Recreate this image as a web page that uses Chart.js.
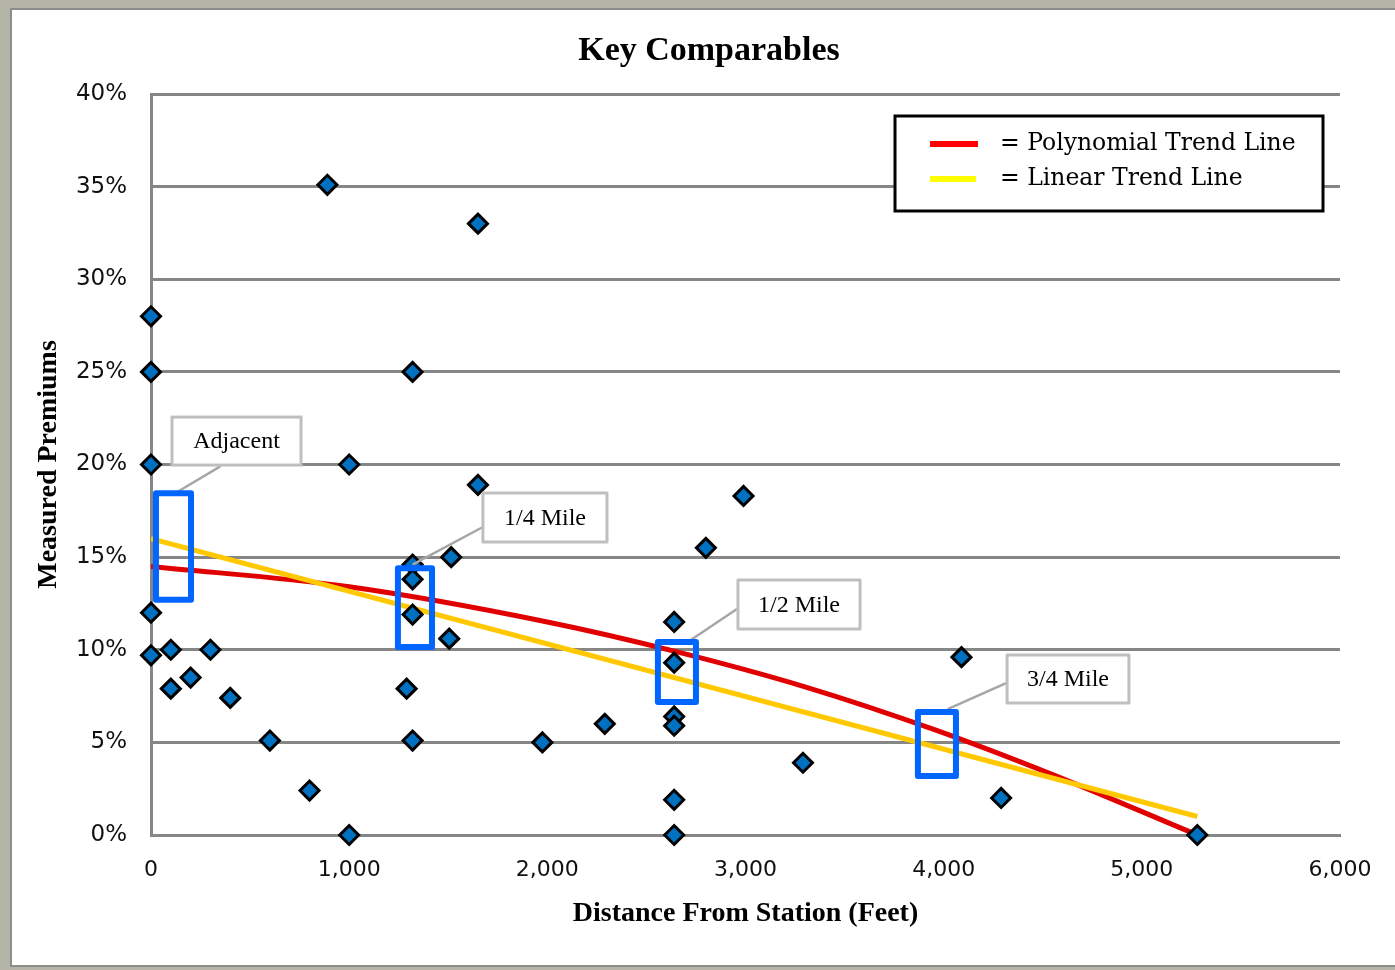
<!DOCTYPE html>
<html>
<head>
<meta charset="utf-8">
<script src="https://cdn.jsdelivr.net/npm/chart.js@4.4.1/dist/chart.umd.min.js"></script>
<style>
    html, body { margin: 0; padding: 0; background: #b4b5a8; }
    #wrap { width: 1395px; height: 970px; }
</style>
</head>
<body>
<div id="wrap"><canvas id="premiumChart"></canvas></div>
<script>
// distance from station (feet) and measured premium (%) of each comparable
const distances = [0, 0, 0, 0, 0, 100, 100, 200, 300, 400, 600, 800, 1000, 890, 1000,
    1650, 1320, 1320, 1320, 1320, 1290, 1320, 1515, 1505, 1650, 1975, 2290,
    2640, 2640, 2640, 2640, 2640, 2640, 2800, 2990, 3290, 4090, 4290, 5280];
const premiums = [28, 25, 20, 12, 9.7, 10, 7.9, 8.5, 10, 7.4, 5.1, 2.4, 0, 35.1, 20,
    33, 25, 14.6, 13.8, 11.9, 7.9, 5.1, 15, 10.6, 18.9, 5, 6,
    11.5, 9.3, 6.4, 5.9, 1.9, 0, 15.5, 18.3, 3.9, 9.6, 2, 0];

// trend lines
const polyX = [0, 1000, 2000, 2650, 3300, 3950, 4540, 5280];
const polyY = [14.5, 13.4, 11.5, 9.9, 8.0, 5.7, 3.3, 0];
const linearX = [0, 5280];
const linearY = [16.0, 1.0];

const xTicks = [0, 1000, 2000, 3000, 4000, 5000, 6000];
const yTicks = [0, 5, 10, 15, 20, 25, 30, 35, 40];

// highlighted distance bands with their callouts (feet / %)
const callouts = [
    {text: 'Adjacent', band: [25, 202, 12.7, 18.45], label: [106, 757, 19.97, 22.56], lead: [[350, 19.9], [130, 18.5]]},
    {text: '1/4 Mile', band: [1246, 1418, 10.15, 14.4], label: [1675, 2301, 15.82, 18.46], lead: [[1670, 16.6], [1320, 14.6]]},
    {text: '1/2 Mile', band: [2558, 2750, 7.18, 10.42], label: [2962, 3578, 11.12, 13.77], lead: [[2957, 12.2], [2720, 10.5]]},
    {text: '3/4 Mile', band: [3870, 4062, 3.18, 6.64], label: [4320, 4935, 7.13, 9.72], lead: [[4315, 8.2], [4020, 6.8]]}
];

const toPoints = (xs, ys) => xs.map((x, i) => ({x: x, y: ys[i]}));

const pagePlugin = {
    id: 'page',
    beforeDraw(chart) {
        const c = chart.ctx;
        c.save();
        c.fillStyle = '#b4b5a8';
        c.fillRect(0, 0, chart.width, chart.height);
        c.fillStyle = '#ffffff';
        c.fillRect(11, 8, chart.width - 11, chart.height - 12);
        c.strokeStyle = '#8c8c8c';
        c.lineWidth = 2;
        c.beginPath();
        c.moveTo(chart.width, 9);
        c.lineTo(11, 9);
        c.lineTo(11, chart.height - 4);
        c.lineTo(chart.width, chart.height - 4);
        c.stroke();
        // chart title
        c.fillStyle = '#000000';
        c.font = 'bold 34px "Liberation Serif"';
        c.textAlign = 'center';
        c.textBaseline = 'middle';
        c.fillText('Key Comparables', 709, 51);
        c.restore();
    }
};

const calloutPlugin = {
    id: 'callouts',
    afterDatasetsDraw(chart) {
        const c = chart.ctx;
        const xs = chart.scales.x, ys = chart.scales.y;
        c.save();
        for (let co of callouts) {
            // leader line
            c.strokeStyle = '#a6a6a6';
            c.lineWidth = 2.5;
            c.beginPath();
            c.moveTo(xs.getPixelForValue(co.lead[0][0]), ys.getPixelForValue(co.lead[0][1]));
            c.lineTo(xs.getPixelForValue(co.lead[1][0]), ys.getPixelForValue(co.lead[1][1]));
            c.stroke();
            // label box
            let lx1 = xs.getPixelForValue(co.label[0]), lx2 = xs.getPixelForValue(co.label[1]);
            let ly1 = ys.getPixelForValue(co.label[3]), ly2 = ys.getPixelForValue(co.label[2]);
            c.fillStyle = '#ffffff';
            c.fillRect(lx1, ly1, lx2 - lx1, ly2 - ly1);
            c.strokeStyle = '#bfbfbf';
            c.lineWidth = 3;
            c.strokeRect(lx1, ly1, lx2 - lx1, ly2 - ly1);
            c.fillStyle = '#000000';
            c.font = '24px "Liberation Serif"';
            c.textAlign = 'center';
            c.textBaseline = 'middle';
            c.fillText(co.text, (lx1 + lx2) / 2, (ly1 + ly2) / 2 + 1);
            // band rectangle
            let bx1 = xs.getPixelForValue(co.band[0]), bx2 = xs.getPixelForValue(co.band[1]);
            let by1 = ys.getPixelForValue(co.band[3]), by2 = ys.getPixelForValue(co.band[2]);
            c.strokeStyle = '#0066ff';
            c.lineWidth = 6;
            c.lineJoin = 'round';
            c.strokeRect(bx1, by1, bx2 - bx1, by2 - by1);
        }
        c.restore();
    },
    afterDraw(chart) {
        const c = chart.ctx;
        const a = chart.chartArea;
        const left = a.right - 445, top = a.top + 22;
        c.save();
        c.fillStyle = '#ffffff';
        c.fillRect(left, top, 428, 95);
        c.strokeStyle = '#000000';
        c.lineWidth = 3;
        c.strokeRect(left, top, 428, 95);
        c.lineWidth = 6;
        c.strokeStyle = '#ff0000';
        c.beginPath();
        c.moveTo(left + 35, top + 28);
        c.lineTo(left + 83, top + 28);
        c.stroke();
        c.strokeStyle = '#ffff00';
        c.beginPath();
        c.moveTo(left + 35, top + 63);
        c.lineTo(left + 81, top + 63);
        c.stroke();
        c.fillStyle = '#000000';
        c.font = '23.5px "DejaVu Serif"';
        c.textAlign = 'left';
        c.textBaseline = 'middle';
        c.fillText('= Polynomial Trend Line', left + 105, top + 28);
        c.fillText('= Linear Trend Line', left + 105, top + 63);
        c.restore();
    }
};

const premiumChart = new Chart(document.getElementById('premiumChart'), {
    type: 'scatter',
    data: {
        datasets: [{
                label: 'Comparables',
                data: toPoints(distances, premiums),
                pointStyle: 'rectRot',
                pointRadius: 9.5,
                pointHoverRadius: 9.5,
                backgroundColor: '#0070c0',
                borderColor: '#000000',
                borderWidth: 3,
                clip: false
            }, {
                label: 'Linear Trend Line',
                data: toPoints(linearX, linearY),
                showLine: true,
                pointRadius: 0,
                borderColor: '#ffc800',
                borderWidth: 5
            }, {
                label: 'Polynomial Trend Line',
                data: toPoints(polyX, polyY),
                showLine: true,
                pointRadius: 0,
                cubicInterpolationMode: 'monotone',
                borderColor: '#e00000',
                borderWidth: 5
            }]
    },
    options: {
        responsive: true,
        maintainAspectRatio: false,
        animation: false,
        layout: {
            padding: {left: 11, top: 94, right: 55, bottom: 35}
        },
        scales: {
            x: {
                type: 'linear',
                min: 0,
                max: 6000,
                afterFit: scale => { scale.height = 100; },
                afterBuildTicks: scale => { scale.ticks = xTicks.map(v => ({value: v})); },
                grid: {display: false, drawTicks: false},
                border: {color: '#868686', width: 3},
                ticks: {
                    padding: 22,
                    color: '#111111',
                    font: {family: 'DejaVu Sans', size: 22},
                    callback: v => v.toLocaleString('en-US')
                },
                title: {
                    display: true,
                    text: 'Distance From Station (Feet)',
                    color: '#000000',
                    padding: {top: 0, bottom: 4},
                    font: {family: 'Liberation Serif', size: 28, weight: 'bold'}
                }
            },
            y: {
                min: 0,
                max: 40,
                afterFit: scale => { scale.width = 140; },
                afterBuildTicks: scale => { scale.ticks = yTicks.map(v => ({value: v})); },
                grid: {color: '#868686', lineWidth: 3, drawTicks: false},
                border: {color: '#868686', width: 3},
                ticks: {
                    padding: 24,
                    color: '#111111',
                    font: {family: 'DejaVu Sans', size: 23},
                    callback: v => v + '%'
                },
                title: {
                    display: true,
                    text: 'Measured Premiums',
                    color: '#000000',
                    padding: {top: 21, bottom: 0},
                    font: {family: 'Liberation Serif', size: 28, weight: 'bold'}
                }
            }
        },
        plugins: {
            legend: {display: false},
            tooltip: {enabled: false},
            title: {display: false}
        }
    },
    plugins: [pagePlugin, calloutPlugin]
});
</script>
</body>
</html>
